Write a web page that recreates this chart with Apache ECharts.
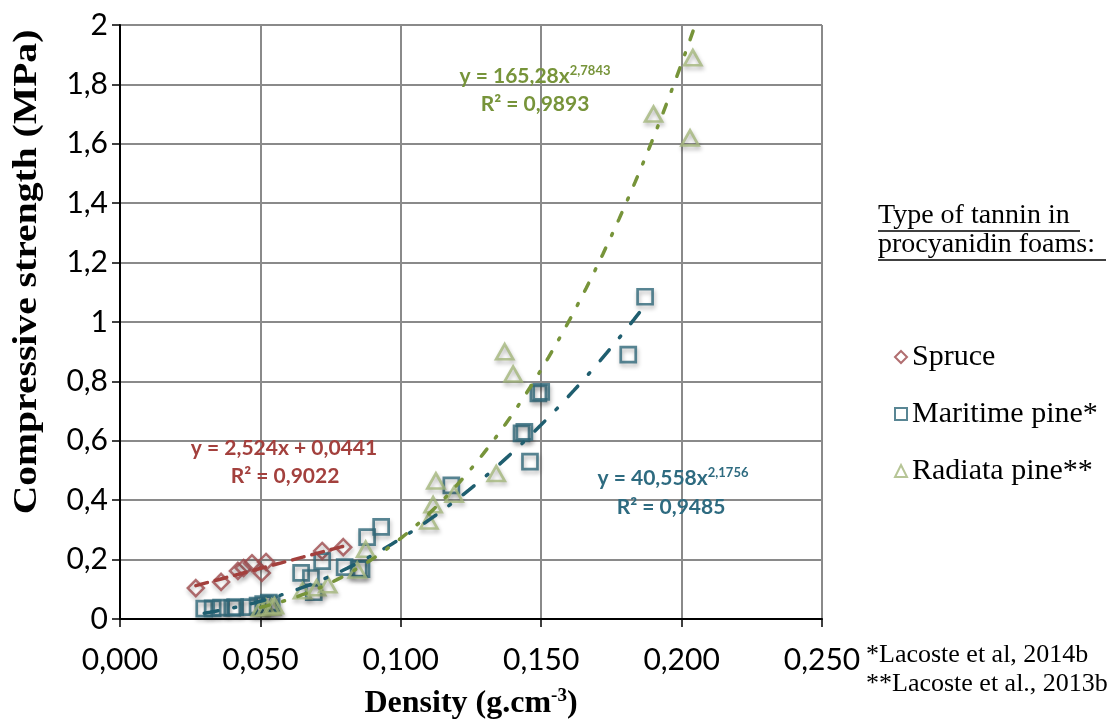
<!DOCTYPE html>
<html><head><meta charset="utf-8">
<script src="https://cdn.jsdelivr.net/npm/echarts@6/dist/echarts.min.js"></script>
<style>html,body{margin:0;padding:0;background:#fff;overflow:hidden}#c{width:1120px;height:719px}</style>
</head><body><div id="c"></div>
<script>
// ---- data (density g/cm3, compressive strength MPa) ----
const spruceX = [0.027, 0.036, 0.042, 0.044, 0.047, 0.0505, 0.052, 0.072, 0.0795];
const spruceY = [0.104, 0.125, 0.162, 0.172, 0.188, 0.155, 0.192, 0.229, 0.242];

const maritimeX = [0.030, 0.033, 0.036, 0.040, 0.041, 0.046, 0.049, 0.051, 0.053, 0.054,
                   0.0645, 0.068, 0.069, 0.072, 0.080, 0.085, 0.086, 0.088, 0.093,
                   0.118, 0.143, 0.144, 0.146, 0.149, 0.150, 0.181, 0.187];
const maritimeY = [0.035, 0.036, 0.038, 0.037, 0.040, 0.040, 0.045, 0.050, 0.055, 0.050,
                   0.155, 0.138, 0.090, 0.195, 0.175, 0.170, 0.168, 0.276, 0.310,
                   0.450, 0.625, 0.630, 0.530, 0.760, 0.765, 0.890, 1.085];

const radiataX = [0.050, 0.052, 0.054, 0.055, 0.065, 0.070, 0.074, 0.0845, 0.0875,
                  0.110, 0.1115, 0.1125, 0.119, 0.134, 0.137, 0.140, 0.190, 0.203, 0.204];
const radiataY = [0.035, 0.040, 0.040, 0.045, 0.095, 0.105, 0.115, 0.165, 0.235,
                  0.330, 0.385, 0.465, 0.420, 0.490, 0.900, 0.825, 1.700, 1.620, 1.890];

// trendlines as given by the equations shown on the chart
const spruceFit = [2.524, 0.0441];      // y = a x + b
const maritimeFit = [40.558, 2.1756];   // y = a x^b
const radiataFit = [165.28, 2.7843];    // y = a x^b
const spruceRange = [0.027, 0.080];
const maritimeRange = [0.030, 0.187];
const radiataRange = [0.050, 0.2048];

const seriesNames = ['Spruce', 'Maritime pine*', 'Radiata pine**'];
const xTicks = [0, 0.05, 0.10, 0.15, 0.20, 0.25];
const yTicks = [0, 0.2, 0.4, 0.6, 0.8, 1, 1.2, 1.4, 1.6, 1.8, 2];

function zip(xs, ys){ return xs.map((x,i)=>[x, ys[i]]); }
function curve(range, f){
  const pts=[]; const n=80;
  for(let i=0;i<=n;i++){ const x=range[0]+(range[1]-range[0])*i/n; pts.push([x,f(x)]); }
  return pts;
}
const spruceTrend = curve(spruceRange, x=>spruceFit[0]*x+spruceFit[1]);
const maritimeTrend = curve(maritimeRange, x=>maritimeFit[0]*Math.pow(x,maritimeFit[1]));
const radiataTrend = curve(radiataRange, x=>radiataFit[0]*Math.pow(x,radiataFit[1]));

const cRed='#A3403D', cRedM='#9E4A4C';
const cTeal='#1F5E6F', cTealM='#2F6879', cTealT='#2E6B80';
const cGreen='#77943A', cGreenM='#A4B67C';
const shadow={shadowBlur:4, shadowColor:'rgba(0,0,0,0.35)', shadowOffsetX:1, shadowOffsetY:3};

const chart = echarts.init(document.getElementById('c'), null, {renderer:'canvas', width:1120, height:719});
const tickFont = 'Lato';
chart.setOption({
  backgroundColor:'#fff',
  animation:false,
  grid:{left:120, top:25, width:702, height:594, containLabel:false, outerBoundsMode:'none'},
  xAxis:{
    type:'value', min:xTicks[0], max:xTicks[xTicks.length-1], interval:0.05,
    axisLine:{show:true, onZero:false, lineStyle:{color:'#000', width:2}},
    axisTick:{show:true, length:8, lineStyle:{color:'#000', width:1.5}},
    splitLine:{show:true, lineStyle:{color:'#8a8a8a', width:2}},
    axisLabel:{margin:26, color:'#000', fontFamily:tickFont, fontSize:30,
      formatter:v=>v.toFixed(3).replace('.',',')},
    name:'{t|Density (g.cm}{s|-3}{t|)}', nameLocation:'middle', nameGap:68,
    nameTextStyle:{rich:{
      t:{fontFamily:'Liberation Serif', fontWeight:'bold', fontSize:32, color:'#000'},
      s:{fontFamily:'Liberation Serif', fontWeight:'bold', fontSize:19, color:'#000', verticalAlign:'top', padding:[0,0,14,0]}
    }}
  },
  yAxis:{
    type:'value', min:yTicks[0], max:yTicks[yTicks.length-1], interval:0.2,
    axisLine:{show:true, onZero:false, lineStyle:{color:'#000', width:2}},
    axisTick:{show:true, length:8, lineStyle:{color:'#000', width:1.5}},
    splitLine:{show:true, lineStyle:{color:'#8a8a8a', width:2}},
    axisLabel:{margin:12, color:'#000', fontFamily:tickFont, fontSize:30,
      formatter:v=>String(+v.toFixed(1)).replace('.',',')}
  },
  legend:{
    orient:'vertical', left:889, top:337, itemGap:27, itemWidth:12, itemHeight:12, itemTextGap:9,
    data:seriesNames,
    textStyle:{fontFamily:'Liberation Serif', fontSize:30, color:'#000', lineHeight:30}
  },
  series:[
    {name:seriesNames[0], type:'scatter', symbol:'diamond', symbolSize:16, z:3,
     itemStyle:Object.assign({color:'rgba(255,255,255,0)', borderColor:cRedM, borderWidth:2.5}, shadow),
     data:zip(spruceX, spruceY)},
    {name:seriesNames[1], type:'scatter', symbol:'rect', symbolSize:15, z:3,
     itemStyle:Object.assign({color:'rgba(255,255,255,0)', borderColor:cTealM, borderWidth:2.7}, shadow),
     data:zip(maritimeX, maritimeY)},
    {name:seriesNames[2], type:'scatter', symbol:'triangle', symbolSize:[17,15], z:3,
     itemStyle:Object.assign({color:'rgba(255,255,255,0)', borderColor:cGreenM, borderWidth:2.7}, shadow),
     data:zip(radiataX, radiataY)},
    {name:'spruceTrend', type:'line', showSymbol:false, silent:true, z:4, clip:true,
     lineStyle:{color:cRed, width:3.5, type:[12,8], cap:'round'}, data:spruceTrend},
    {name:'maritimeTrend', type:'line', showSymbol:false, silent:true, z:4, clip:true,
     lineStyle:{color:cTeal, width:3.5, type:[14,16,2,16], cap:'round'}, data:maritimeTrend},
    {name:'radiataTrend', type:'line', showSymbol:false, silent:true, z:4, clip:true,
     lineStyle:{color:cGreen, width:3.5, type:[9,14,2,14], cap:'round'}, data:radiataTrend}
  ],
  graphic:[
    {type:'text', x:27, y:272, rotation:Math.PI/2, scaleX:1.2, z:10,
     style:{text:'Compressive strength (MPa)', font:'bold 33px "Liberation Serif"', fill:'#000', align:'center', verticalAlign:'middle'}},
    // trendline equations
    {type:'text', x:284, y:448, z:10, style:{text:'y = 2,524x + 0,0441', font:'bold 21px Lato', fill:cRed, align:'center', verticalAlign:'middle'}},
    {type:'text', x:285, y:476, z:10, style:{text:'R² = 0,9022', font:'bold 21px Lato', fill:cRed, align:'center', verticalAlign:'middle'}},
    {type:'text', x:535, y:76, z:10, style:{text:'{a|y = 165,28x}{s|2,7843}', align:'center', verticalAlign:'middle',
      rich:{a:{font:'bold 21px Lato', fill:cGreen}, s:{font:'bold 13px Lato', fill:cGreen, verticalAlign:'top', padding:[0,0,10,0]}}}},
    {type:'text', x:535, y:104, z:10, style:{text:'R² = 0,9893', font:'bold 21px Lato', fill:cGreen, align:'center', verticalAlign:'middle'}},
    {type:'text', x:673, y:478, z:10, style:{text:'{a|y = 40,558x}{s|2,1756}', align:'center', verticalAlign:'middle',
      rich:{a:{font:'bold 21px Lato', fill:cTealT}, s:{font:'bold 13px Lato', fill:cTealT, verticalAlign:'top', padding:[0,0,10,0]}}}},
    {type:'text', x:671, y:507, z:10, style:{text:'R² = 0,9485', font:'bold 21px Lato', fill:cTealT, align:'center', verticalAlign:'middle'}},
    // legend header
    {type:'text', x:878, y:216, z:10, style:{text:'Type of tannin in', font:'28px "Liberation Serif"', fill:'#000', align:'left', verticalAlign:'middle'}},
    {type:'text', x:878, y:245, z:10, style:{text:'procyanidin foams:', font:'28px "Liberation Serif"', fill:'#000', align:'left', verticalAlign:'middle'}},
    {type:'line', z:10, shape:{x1:878, y1:231, x2:1080, y2:231}, style:{stroke:'#000', lineWidth:1.3}},
    {type:'line', z:10, shape:{x1:878, y1:260, x2:1106, y2:260}, style:{stroke:'#000', lineWidth:1.3}},
    // footnotes
    {type:'text', x:866, y:655, z:10, style:{text:'*Lacoste et al, 2014b', font:'26px "Liberation Serif"', fill:'#000', align:'left', verticalAlign:'middle'}},
    {type:'text', x:866, y:684, z:10, style:{text:'**Lacoste et al., 2013b', font:'26px "Liberation Serif"', fill:'#000', align:'left', verticalAlign:'middle'}}
  ]
});
</script></body></html>
